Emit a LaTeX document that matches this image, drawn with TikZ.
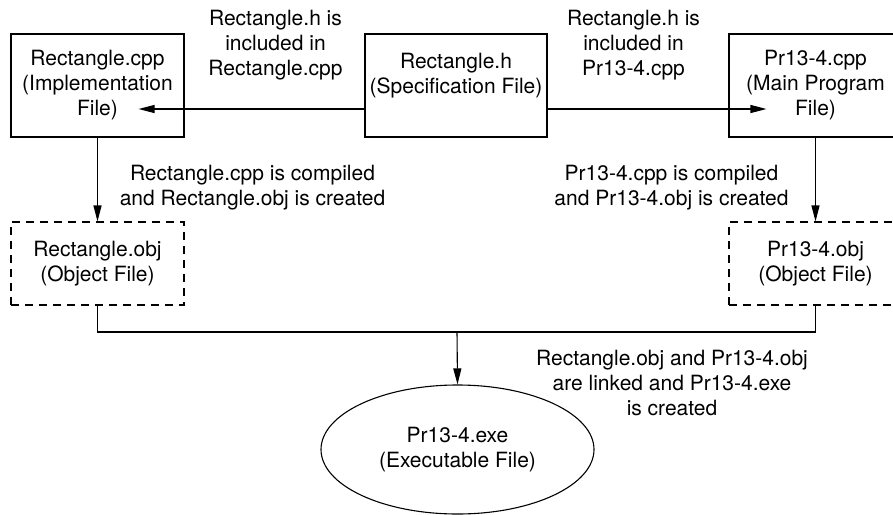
\documentclass[tikz,border=0pt]{standalone}
\usepackage{fontspec}
\setmainfont{TeX Gyre Heros}
\usepackage{tikz}
\usetikzlibrary{arrows.meta, shapes.geometric}
\newcommand{\boxfont}{\fontsize{21}{25}\selectfont}
\tikzset{
  filebox/.style={draw, line width=1.1pt, minimum width=173pt, minimum height=103pt,
                  inner sep=0pt, align=center, font=\boxfont},
  objbox/.style={filebox, dash pattern=on 8pt off 6pt, minimum height=83pt},
  exebox/.style={ellipse, draw, line width=1.1pt, minimum width=273pt, minimum height=129pt,
                 inner sep=0pt, align=center, font=\boxfont},
  note/.style={anchor=north, align=center, inner sep=0pt, font=\boxfont},
  arr/.style={-{Triangle[length=16pt, width=8pt]}, line width=1.1pt}
}

\begin{document}
\begin{tikzpicture}[x=1pt, y=-1pt, line width=1.1pt]
  \useasboundingbox (0,0) rectangle (893,514);

  % source files
  \node[filebox] (impl) at (97.5,85.5) {Rectangle.cpp\\(Implementation\\File)};
  \node[filebox, minimum width=182pt] (spec) at (456,85.5) {Rectangle.h\\(Specification File)\\\mbox{}};
  \node[filebox] (main) at (815.5,85.5) {Pr13-4.cpp\\(Main Program\\File)};

  % object files and executable
  \node[objbox] (implobj) at (97.5,263.5) {Rectangle.obj\\(Object File)};
  \node[objbox] (mainobj) at (815.5,263.5) {Pr13-4.obj\\(Object File)};
  \node[exebox] (exe) at (457.5,449.5) {Pr13-4.exe\\(Executable File)};

  % include arrows
  \draw[arr] ([yshift=-23.5pt]spec.west) -- ([xshift=-46pt, yshift=-23.5pt]impl.east);
  \draw[arr] ([yshift=-23.5pt]spec.east) -- ([xshift=38pt, yshift=-23.5pt]main.west);

  % compile arrows
  \draw[arr] (impl.south) -- (implobj.north);
  \draw[arr] (main.south) -- (mainobj.north);

  % link
  \coordinate (join) at (457,332);
  \draw (implobj.south) |- (join) -| (mainobj.south);
  \draw[arr] (join) -- (exe.north);

  % notes
  \node[note] (incimpl) at (275.5,9.5) {Rectangle.h is\\included in\\Rectangle.cpp};
  \node[note] (incmain) at (633.5,9.5) {Rectangle.h is\\included in\\Pr13-4.cpp};
  \node[note] (compimpl) at (252.5,164.5) {Rectangle.cpp is compiled\\and Rectangle.obj is created};
  \node[note] (compmain) at (671.5,164.5) {Pr13-4.cpp is compiled\\and Pr13-4.obj is created};
  \node[note] (linknote) at (672,349.5) {Rectangle.obj and Pr13-4.obj\\are linked and Pr13-4.exe\\is created};
\end{tikzpicture}
\end{document}
